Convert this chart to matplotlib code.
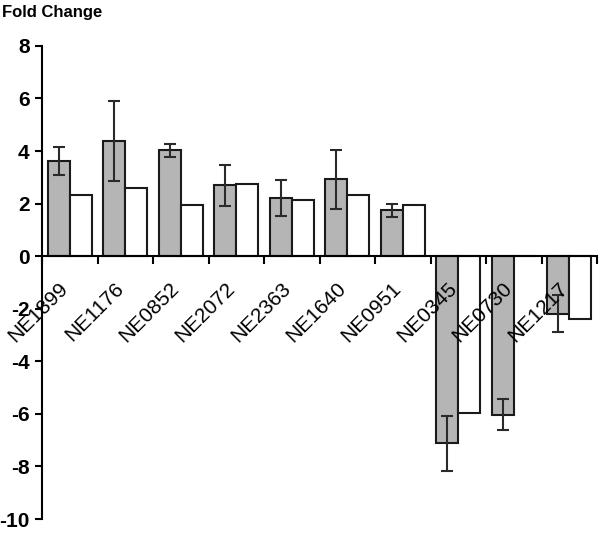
import numpy as np
import matplotlib.pyplot as plt

genes = ['NE1899', 'NE1176', 'NE0852', 'NE2072', 'NE2363', 'NE1640', 'NE0951',
         'NE0345', 'NE0730', 'NE1217']
fold_gray = [3.62, 4.40, 4.03, 2.70, 2.21, 2.92, 1.74, -7.12, -6.03, -2.18]
err_gray = [0.52, 1.52, 0.25, 0.78, 0.68, 1.12, 0.24, 1.05, 0.58, 0.72]
fold_white = [2.31, 2.59, 1.95, 2.75, 2.12, 2.33, 1.95, -5.96, 0.0, -2.40]

plt.rcParams['font.family'] = 'Liberation Sans'
plt.rcParams['font.weight'] = 'bold'
plt.rcParams['axes.unicode_minus'] = False

fig = plt.figure(figsize=(6, 5.34), dpi=100)
ax = fig.add_axes([0.07, 0.028, 0.925, 0.886])

ind = np.arange(len(genes))
width = 0.4
ax.bar(ind + 0.1, fold_gray, width, align='edge', color='#b5b5b5',
       edgecolor='#1a1a1a', linewidth=1.5, zorder=2)
ax.bar(ind + 0.5, fold_white, width, align='edge', color='white',
       edgecolor='#1a1a1a', linewidth=1.5, zorder=2)
ax.errorbar(ind + 0.3, fold_gray, yerr=err_gray, fmt='none', ecolor='#2a2a2a',
            elinewidth=1.5, capsize=4, capthick=1.5, zorder=3)

ax.set_xlim(0, len(genes))
ax.set_ylim(-10, 8)
ax.set_yticks(np.arange(-10, 9, 2))
ax.tick_params(axis='y', labelsize=15, length=5, width=1.5, pad=4)

# x axis sits on zero, ticks at group boundaries, labels drawn over the bars
ax.spines['bottom'].set_position(('data', 0))
for s in ['top', 'right']:
    ax.spines[s].set_visible(False)
for s in ['left', 'bottom']:
    ax.spines[s].set_linewidth(1.5)
ax.set_xticks(np.arange(0, len(genes) + 1), minor=True)
ax.set_xticks(ind + 0.3)
ax.set_xticklabels(genes, rotation=45, ha='right', rotation_mode='anchor',
                   fontsize=15, fontweight='normal')
ax.tick_params(axis='x', which='major', length=0, pad=16)
ax.tick_params(axis='x', which='minor', length=6, width=1.5, direction='out')
ax.xaxis.set_zorder(5)

fig.text(0.003, 0.99, 'Fold Change', fontsize=12, fontweight='heavy',
         va='top', ha='left')

plt.savefig('out.png', dpi=100)
